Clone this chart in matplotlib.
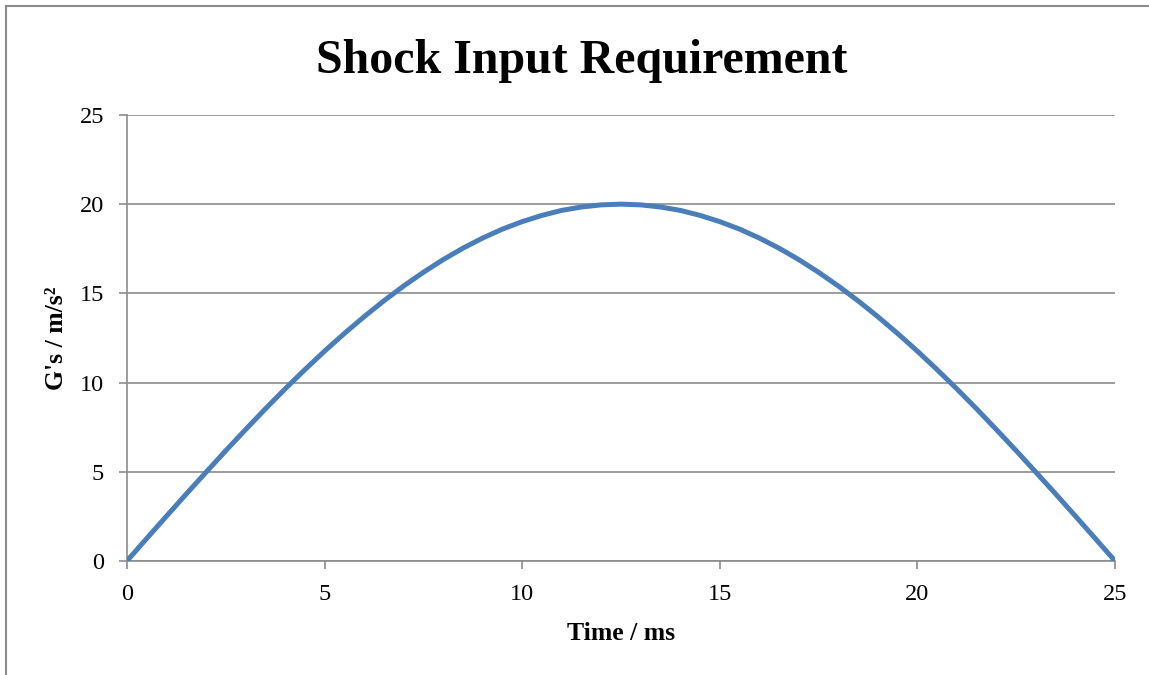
import numpy as np
import matplotlib.pyplot as plt
from matplotlib.lines import Line2D

plt.rcParams['font.family'] = ['Liberation Serif', 'DejaVu Serif']

# half-sine shock pulse, sampled every 0.5 ms
time_ms = [0, 0.5, 1, 1.5, 2, 2.5, 3, 3.5, 4, 4.5, 5, 5.5, 6, 6.5, 7, 7.5,
           8, 8.5, 9, 9.5, 10, 10.5, 11, 11.5, 12, 12.5, 13, 13.5, 14, 14.5,
           15, 15.5, 16, 16.5, 17, 17.5, 18, 18.5, 19, 19.5, 20, 20.5, 21,
           21.5, 22, 22.5, 23, 23.5, 24, 24.5, 25]
accel_g = [0.00, 1.26, 2.51, 3.75, 4.97, 6.18, 7.36, 8.52, 9.64, 10.72,
           11.76, 12.75, 13.69, 14.58, 15.41, 16.18, 16.89, 17.53, 18.10,
           18.60, 19.02, 19.37, 19.65, 19.84, 19.96, 20.00, 19.96, 19.84,
           19.65, 19.37, 19.02, 18.60, 18.10, 17.53, 16.89, 16.18, 15.41,
           14.58, 13.69, 12.75, 11.76, 10.72, 9.64, 8.52, 7.36, 6.18, 4.97,
           3.75, 2.51, 1.26, 0.00]
x_ticks = [0, 5, 10, 15, 20, 25]
y_ticks = [0, 5, 10, 15, 20, 25]

grey = '#8c8c8c'

fig = plt.figure(figsize=(11.49, 6.75), dpi=100)
ax = fig.add_axes([0.1105, 0.169, 0.8599, 0.6607])

ax.plot(time_ms, accel_g, color='#4a7ebb', lw=3.6, solid_capstyle='round',
        solid_joinstyle='round', zorder=3)

ax.set_xlim(0, 25)
ax.set_ylim(0, 25)
ax.set_xticks(x_ticks)
ax.set_yticks(y_ticks)
ax.yaxis.grid(True, color=grey, lw=1.2)
ax.set_axisbelow(True)

for side in ['top', 'right']:
    ax.spines[side].set_visible(False)
for side in ['left', 'bottom']:
    ax.spines[side].set_color(grey)
    ax.spines[side].set_linewidth(1.2)

ax.tick_params(axis='both', colors=grey, labelcolor='black', labelsize=17.5,
               width=1.2, length=5.5)
ax.tick_params(axis='x', pad=11)
ax.tick_params(axis='y', pad=11)

ax.set_xlabel('Time / ms', fontsize=18.5, fontweight='bold', labelpad=12)
ax.set_ylabel("G's / m/s\u00b2", fontsize=18.5, fontweight='bold', labelpad=8)
fig.text(0.5065, 0.91, 'Shock Input Requirement', ha='center', va='center',
         fontsize=34.5, fontweight='bold')

# chart area frame (left and top edges)
fig.add_artist(Line2D([0.005, 0.005], [0.0, 0.991], color=grey, lw=1.5,
                      transform=fig.transFigure))
fig.add_artist(Line2D([0.005, 1.0], [0.991, 0.991], color=grey, lw=1.5,
                      transform=fig.transFigure))

fig.savefig('out.png', dpi=100)
